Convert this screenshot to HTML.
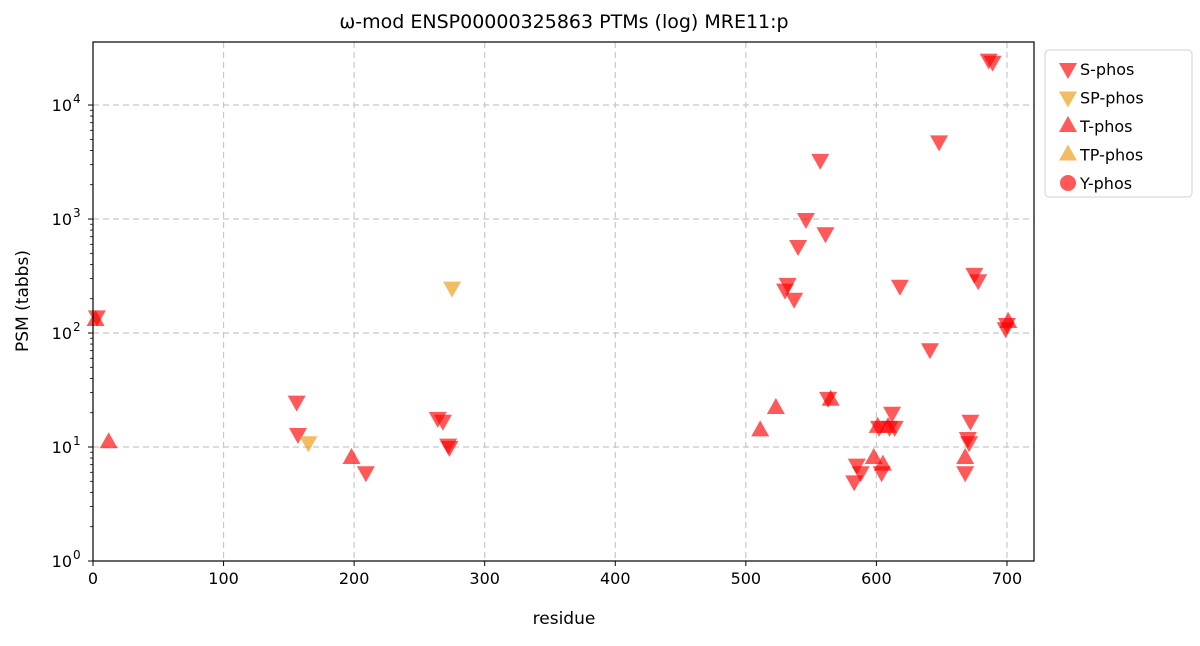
<!DOCTYPE html>
<html><head><meta charset="utf-8"><style>
body{margin:0;background:#fff;font-family:"Liberation Sans","DejaVu Sans",sans-serif;}
svg text{font-family:"DejaVu Sans","Liberation Sans",sans-serif;fill:#000}
</style></head><body>
<svg id="chart" width="1200" height="641" xmlns="http://www.w3.org/2000/svg">
<rect width="1200" height="641" fill="#fff"/>
<text x="564" y="28" text-anchor="middle" font-size="19">ω-mod ENSP00000325863 PTMs (log) MRE11:p</text>
<g id="grid"></g>
<g id="marks"></g>
<rect x="93" y="42" width="941" height="519" fill="none" stroke="#000" stroke-width="1.2"/>
<g id="axes"></g>
<text x="564" y="624" text-anchor="middle" font-size="17">residue</text>
<text transform="translate(28,301) rotate(-90)" text-anchor="middle" font-size="17">PSM (tabbs)</text>
<g id="legend"></g>
</svg>
<script>
const sResidues=[3,156,157,264,268,272,273,209,557,546,540,561,532,530,537,618,648,641,675,678,700,699,563,612,602,610,614,672,670,671,585,588,583,604,668,686,689];
const sValues=[140,25,13,18,17,10.5,10,6,3300,1000,580,750,270,240,200,260,4800,72,330,290,120,110,27,20,15,15,15,17,12,11,7,6,5,6,6,25000,24000];
const spResidues=[275,165];
const spValues=[250,11];
const tResidues=[2,12,198,523,511,565,598,605,668,701,601,609];
const tValues=[130,11,8,22,14,26,8,7,8,125,15,15];
const tpResidues=[];
const tpValues=[];
const yResidues=[];
const yValues=[];
const xTicks=[0,100,200,300,400,500,600,700];
const yTicks=[0,1,2,3,4];

const NS="http://www.w3.org/2000/svg";
const X0=93,X1=1034,xMin=0,xMax=720.7;
const Y0=561,Y1=42,lMin=0,lMax=4.553;
const xs=v=>X0+(v-xMin)/(xMax-xMin)*(X1-X0);
const ys=v=>Y0-(Math.log10(v)-lMin)/(lMax-lMin)*(Y0-Y1);
function mk(tag,attrs,parent){const e=document.createElementNS(NS,tag);for(const k in attrs)e.setAttribute(k,attrs[k]);parent.appendChild(e);return e;}
const grid=document.getElementById('grid'),axes=document.getElementById('axes'),marks=document.getElementById('marks'),legend=document.getElementById('legend');
xTicks.forEach(t=>{const x=xs(t);
 if(t>0){const g=mk('line',{x1:x,x2:x,y1:Y1,y2:Y0,stroke:'#c8c8c8','stroke-width':1.2,'stroke-dasharray':'6,4'},grid);
 
 }
 mk('line',{x1:x,x2:x,y1:Y0,y2:Y0+5,stroke:'#000'},axes);
 const tx=mk('text',{x:x,y:Y0+23,'text-anchor':'middle','font-size':16},axes);tx.textContent=t;
 
 });
yTicks.forEach(t=>{const y=ys(Math.pow(10,t));
 if(t>0){const g=mk('line',{x1:X0,x2:X1,y1:y,y2:y,stroke:'#c8c8c8','stroke-width':1.2,'stroke-dasharray':'6,4'},grid);
 
 }
 mk('line',{x1:X0-5,x2:X0,y1:y,y2:y,stroke:'#000'},axes);
 const tx=mk('text',{x:X0-21,y:y+6,'text-anchor':'end','font-size':16},axes);tx.textContent='10';
 
 
 const sp=mk('text',{x:X0-20,y:y-2,'text-anchor':'start','font-size':12},axes);sp.textContent=t;
 
 });
for(let d=0;d<4;d++)for(let m=2;m<10;m++){const y=ys(m*Math.pow(10,d));mk('line',{x1:X0-3,x2:X0,y1:y,y2:y,stroke:'#000','stroke-width':0.8},axes);}
function tri(cx,cy,down,color,parent){const p=down?`${cx-9},${cy-6} ${cx+9},${cy-6} ${cx},${cy+10}`:`${cx-9},${cy+6} ${cx+9},${cy+6} ${cx},${cy-10}`;
 return mk('polygon',{points:p,fill:color,'fill-opacity':0.65},parent);}
const RED='#ff0000',ORG='#eb9a0e';
sResidues.forEach((r,i)=>{const e=tri(xs(r),ys(sValues[i]),true,RED,marks);
 
 });
spResidues.forEach((r,i)=>{const e=tri(xs(r),ys(spValues[i]),true,ORG,marks);
 
 });
tResidues.forEach((r,i)=>{const e=tri(xs(r),ys(tValues[i]),false,RED,marks);
 
 });
tpResidues.forEach((r,i)=>{const e=tri(xs(r),ys(tpValues[i]),false,ORG,marks);
 
 });
yResidues.forEach((r,i)=>{const e=mk('circle',{cx:xs(r),cy:ys(yValues[i]),r:8,fill:RED,'fill-opacity':0.65},marks);
 
 });
const lb=mk('rect',{x:1045,y:50,width:147,height:147,rx:4,fill:'#fff',stroke:'#d0d0d0'},legend);


const entries=[['S-phos','d',RED],['SP-phos','d',ORG],['T-phos','u',RED],['TP-phos','u',ORG],['Y-phos','c',RED]];
entries.forEach((en,i)=>{const y=69+i*28.5;const g=mk('g',{},legend);
 
 
 if(en[1]==='c')mk('circle',{cx:1068,cy:y,r:8,fill:en[2],'fill-opacity':0.65},g);else tri(1068,y,en[1]==='d',en[2],g);
 const t=mk('text',{x:1080,y:y+6,'font-size':16},g);t.textContent=en[0];});
</script>
</body></html>
